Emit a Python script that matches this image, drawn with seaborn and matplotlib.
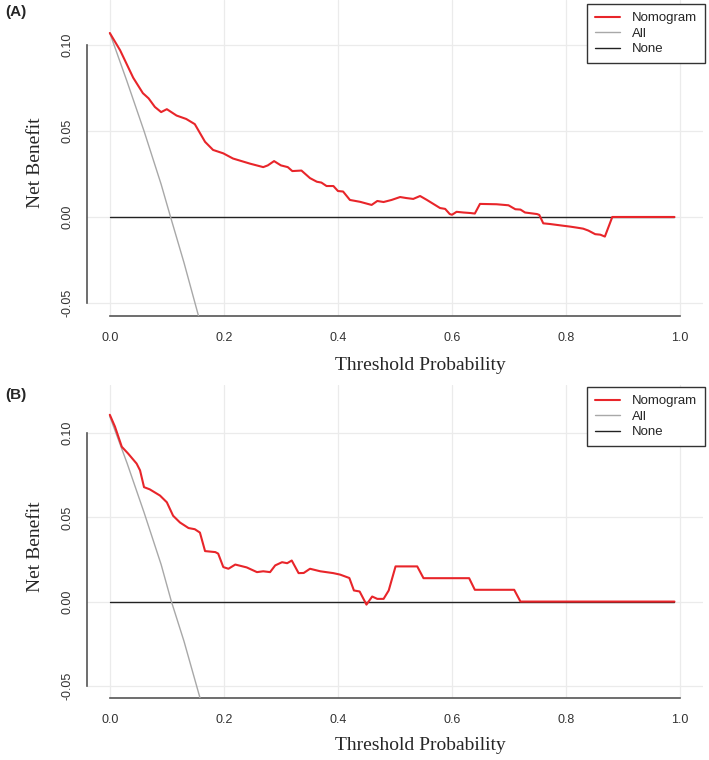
import pandas as pd
import matplotlib
matplotlib.use("Agg")
import matplotlib.pyplot as plt
import seaborn as sns

# Painel A - curva de decisao
limiar_a = [0.000, 0.018, 0.041, 0.058, 0.068, 0.079, 0.090, 0.100, 0.117, 0.134,
            0.149, 0.167, 0.181, 0.199, 0.216, 0.246, 0.269, 0.277, 0.288, 0.300,
            0.312, 0.320, 0.336, 0.351, 0.363, 0.371, 0.380, 0.392, 0.400, 0.409,
            0.421, 0.439, 0.459, 0.469, 0.480, 0.494, 0.509, 0.520, 0.532, 0.544,
            0.556, 0.579, 0.588, 0.596, 0.600, 0.608, 0.620, 0.632, 0.640, 0.649,
            0.678, 0.699, 0.711, 0.720, 0.728, 0.749, 0.753, 0.760, 0.772, 0.795,
            0.807, 0.819, 0.830, 0.839, 0.851, 0.860, 0.868, 0.881, 0.990]
nomograma_a = [0.107, 0.097, 0.081, 0.072, 0.069, 0.064, 0.061, 0.0627, 0.059, 0.057,
               0.054, 0.0437, 0.039, 0.037, 0.034, 0.031, 0.029, 0.030, 0.0325, 0.030,
               0.029, 0.0267, 0.027, 0.0226, 0.0205, 0.020, 0.018, 0.018, 0.0151, 0.0148,
               0.0099, 0.0088, 0.007, 0.0093, 0.0087, 0.0099, 0.0116, 0.011, 0.0105, 0.0122,
               0.0099, 0.0052, 0.0047, 0.0017, 0.0013, 0.003, 0.0026, 0.0023, 0.002, 0.0076,
               0.0074, 0.0068, 0.0045, 0.0043, 0.0026, 0.0017, 0.0012, -0.0037, -0.0041, -0.0051,
               -0.0056, -0.0062, -0.0068, -0.0079, -0.0100, -0.0103, -0.0114, 0.0, 0.0]
todos_x_a = [0.0, 0.03, 0.06, 0.09, 0.1065, 0.13, 0.16]
todos_a = [0.107, 0.079, 0.050, 0.019, 0.0, -0.0265, -0.063]

# Painel B
limiar_b = [0.000, 0.009, 0.021, 0.032, 0.047, 0.053, 0.060, 0.070, 0.088, 0.100,
            0.111, 0.123, 0.138, 0.149, 0.158, 0.167, 0.185, 0.190, 0.199, 0.208,
            0.220, 0.240, 0.258, 0.269, 0.281, 0.290, 0.302, 0.311, 0.319, 0.331,
            0.340, 0.351, 0.369, 0.392, 0.404, 0.420, 0.428, 0.438, 0.450, 0.460,
            0.469, 0.480, 0.489, 0.501, 0.539, 0.550, 0.630, 0.640, 0.709, 0.720, 0.990]
nomograma_b = [0.111, 0.104, 0.092, 0.088, 0.082, 0.078, 0.068, 0.0667, 0.063, 0.059,
               0.051, 0.047, 0.0437, 0.043, 0.041, 0.030, 0.0294, 0.0285, 0.0205, 0.0195,
               0.022, 0.0203, 0.0175, 0.018, 0.0175, 0.0215, 0.0234, 0.0228, 0.0244, 0.0169,
               0.017, 0.0195, 0.018, 0.0169, 0.016, 0.014, 0.0066, 0.006, -0.0018, 0.003,
               0.0016, 0.0016, 0.0066, 0.0209, 0.0209, 0.0139, 0.0139, 0.0070, 0.0070, 0.0, 0.0]
todos_x_b = [0.0, 0.03, 0.06, 0.09, 0.108, 0.13, 0.16]
todos_b = [0.110, 0.0825, 0.053, 0.022, 0.0, -0.0235, -0.0595]

nenhum_x = [0.0, 0.99]
nenhum = [0.0, 0.0]

x_ticks = [0.0, 0.2, 0.4, 0.6, 0.8, 1.0]
y_ticks = [-0.05, 0.00, 0.05, 0.10]
y_labels = ["-0.05", "0.00", "0.05", "0.10"]

sns.set_style("white")
plt.rcParams['font.family'] = ['Liberation Sans', 'DejaVu Sans']

fig = plt.figure(figsize=(7.09, 7.6), dpi=100)

paineis = [
    ("(A)", limiar_a, nomograma_a, todos_x_a, todos_a,
     [0.1227, 0.5842, 0.8688, 0.4158], (-0.0576, 0.1262), 12, 365),
    ("(B)", limiar_b, nomograma_b, todos_x_b, todos_b,
     [0.1227, 0.0816, 0.8688, 0.4118], (-0.0573, 0.1287), 395, 746),
]

for letra, lx, ny, tx, ty, pos, ylim, y_letra, y_titulo in paineis:
    ax = fig.add_axes(pos)
    for v in x_ticks:
        ax.axvline(v, color="#ebebeb", lw=0.9, zorder=0)
    for v in y_ticks:
        ax.axhline(v, color="#ebebeb", lw=0.9, zorder=0)

    sns.lineplot(x=nenhum_x, y=nenhum, ax=ax, color="#222222", linewidth=1.0, label="None", zorder=2)
    sns.lineplot(x=tx, y=ty, ax=ax, color="#a8a8a8", linewidth=1.0, label="All", zorder=3)
    sns.lineplot(x=lx, y=ny, ax=ax, color="#e8252a", linewidth=1.5, label="Nomogram", zorder=4)

    ax.set_xlim(-0.04, 1.04)
    ax.set_ylim(*ylim)
    ax.set_xticks(x_ticks)
    ax.set_xticklabels(["0.0", "0.2", "0.4", "0.6", "0.8", "1.0"])
    ax.set_yticks(y_ticks)
    ax.set_yticklabels(y_labels, rotation=90, va="center")
    ax.tick_params(axis="both", direction="out", length=5.5, width=1.0, color="#555555",
                   labelsize=9, labelcolor="#333333")
    ax.tick_params(axis="x", pad=6)
    ax.tick_params(axis="y", pad=4)

    for lado in ["top", "right"]:
        ax.spines[lado].set_visible(False)
    for lado in ["left", "bottom"]:
        ax.spines[lado].set_color("#555555")
        ax.spines[lado].set_linewidth(1.2)
    ax.spines["left"].set_bounds(-0.05, 0.10)
    ax.spines["bottom"].set_bounds(0.0, 1.0)

    ax.set_xlabel("")
    ax.set_ylabel("")

    # legenda no canto superior direito
    h, l = ax.get_legend_handles_labels()
    ordem = [l.index("Nomogram"), l.index("All"), l.index("None")]
    topo = 1 - (4 if letra == "(A)" else 387) / 760
    ax.legend([h[i] for i in ordem], [l[i] for i in ordem],
              loc="upper right", bbox_to_anchor=(705 / 709, topo), bbox_transform=fig.transFigure,
              borderaxespad=0, frameon=True, fancybox=False, edgecolor="#333333",
              fontsize=9.5, handlelength=1.9, handletextpad=0.9, labelspacing=0.25,
              borderpad=0.6, framealpha=1)
    ax.get_legend().get_frame().set_linewidth(1.0)

    centro_y = pos[1] + pos[3] / 2 - 5 / 760
    fig.text(35 / 709, centro_y, "Net Benefit", family="Liberation Serif", fontsize=14,
             rotation=90, ha="center", va="center")
    fig.text(420 / 709, 1 - y_titulo / 760, "Threshold Probability",
             family="Liberation Serif", fontsize=14, ha="center", va="center")
    fig.text(5 / 709, 1 - y_letra / 760, letra, fontsize=11, fontweight="bold",
             ha="left", va="center")

plt.savefig("out.png", dpi=100)
